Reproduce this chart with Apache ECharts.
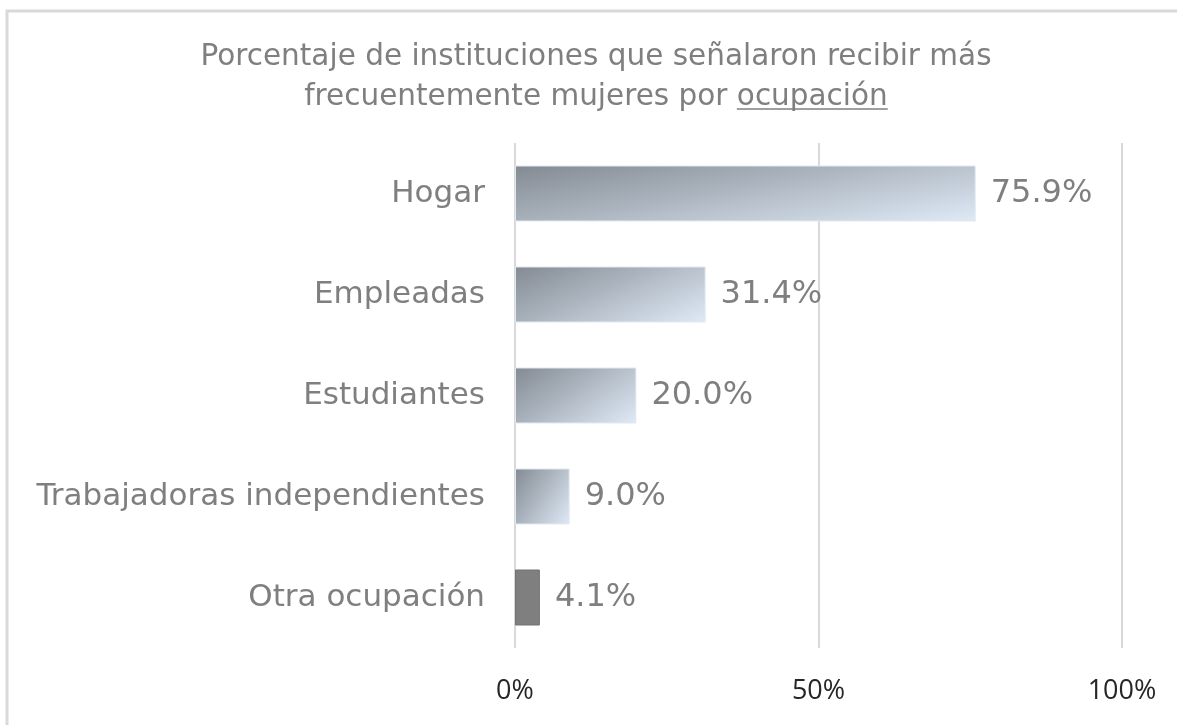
<!DOCTYPE html>
<html>
<head>
<meta charset="utf-8">
<script src="https://cdn.jsdelivr.net/npm/echarts@6/dist/echarts.min.js"></script>
<style>
  html, body { margin: 0; padding: 0; background: #fff; overflow: hidden; }
  #main { width: 1177px; height: 725px; }
</style>
</head>
<body>
<div id="main"></div>
<script>
    // datos del gráfico
    var categorias = ['Hogar', 'Empleadas', 'Estudiantes', 'Trabajadoras independientes', 'Otra ocupación'];
    var porcentajes = [75.9, 31.4, 20.0, 9.0, 4.1];
    var ticksX = ['0%', '50%', '100%'];

    var gris = '#7f7f7f';
    var fuenteTitulo = 'DejaVu Sans';
    var tamTitulo = 29.5;
    var lineaTitulo1 = 'Porcentaje de instituciones que señalaron recibir más';
    var lineaTitulo2a = 'frecuentemente mujeres por ';
    var lineaTitulo2b = 'ocupación';

    var gridLeft = 515, gridRight = 55, gridTop = 143, gridBottom = 77;
    var anchoPlot = 1177 - gridLeft - gridRight;
    var altoBarra = 56;

    // degradado diagonal: oscuro arriba-izq, claro abajo-der (aprox. como Excel)
    function degradado(valor) {
        var w = Math.max(anchoPlot * valor / 100, 1), h = altoBarra;
        var a = 0.6, b = 0.4;
        var D = 1 / (a * a / (w * w) + b * b / (h * h));
        var dx = a * D / (w * w), dy = b * D / (h * h);
        return new echarts.graphic.LinearGradient(0, 0, dx, dy, [
            { offset: 0, color: '#838a92' },
            { offset: 1, color: '#dfeaf7' }
        ]);
    }

    var datosBarras = porcentajes.map(function (v, i) {
        return {
            value: v,
            itemStyle: i === porcentajes.length - 1
                ? { color: gris, borderColor: '#737373', borderWidth: 1 }
                : { color: degradado(v), borderColor: '#e2e8ef', borderWidth: 1 }
        };
    });

    // posición del subrayado de "ocupación"
    var ctx = document.createElement('canvas').getContext('2d');
    ctx.font = tamTitulo + 'px "' + fuenteTitulo + '"';
    var anchoL2 = ctx.measureText(lineaTitulo2a + lineaTitulo2b).width;
    var anchoA = ctx.measureText(lineaTitulo2a).width;
    var anchoB = ctx.measureText(lineaTitulo2b).width;
    var centroTitulo = 596;
    var xSub = centroTitulo - anchoL2 / 2 + anchoA;

    var chart = echarts.init(document.getElementById('main'));
    var option = {
        animation: false,
        backgroundColor: '#fff',
        title: {
            text: lineaTitulo1 + '\n' + lineaTitulo2a + lineaTitulo2b,
            left: centroTitulo,
            top: 37,
            padding: 0,
            textAlign: 'center',
            textStyle: {
                fontFamily: fuenteTitulo,
                fontWeight: 'normal',
                fontSize: tamTitulo,
                lineHeight: 40,
                color: gris
            }
        },
        graphic: [
            {
                type: 'rect',
                silent: true,
                shape: { x: 7, y: 11, width: 1250, height: 800 },
                style: { fill: 'none', stroke: '#d9d9d9', lineWidth: 3 }
            },
            {
                type: 'line',
                silent: true,
                shape: { x1: xSub, y1: 109, x2: xSub + anchoB, y2: 109 },
                style: { stroke: gris, lineWidth: 1.5 }
            }
        ],
        grid: {
            left: gridLeft,
            right: gridRight,
            top: gridTop,
            bottom: gridBottom,
            containLabel: false
        },
        xAxis: {
            type: 'value',
            min: 0,
            max: 100,
            interval: 50,
            axisLine: { show: false },
            axisTick: { show: false },
            splitLine: { lineStyle: { color: '#d9d9d9', width: 2 } },
            axisLabel: {
                margin: 30,
                fontFamily: 'Open Sans',
                fontSize: 27,
                color: '#262626',
                formatter: function (v) { return ticksX[Math.round(v / 50)]; }
            }
        },
        yAxis: {
            type: 'category',
            inverse: true,
            data: categorias,
            axisLine: { show: false },
            axisTick: { show: false },
            axisLabel: {
                margin: 30,
                fontFamily: 'DejaVu Sans',
                fontSize: 31,
                color: gris
            }
        },
        series: [{
            type: 'bar',
            data: datosBarras,
            barWidth: altoBarra,
            label: {
                show: true,
                position: 'right',
                distance: 15,
                fontFamily: 'DejaVu Sans',
                fontSize: 32,
                color: gris,
                formatter: function (p) { return p.value.toFixed(1) + '%'; }
            }
        }]
    };
    chart.setOption(option);
</script>
</body>
</html>
